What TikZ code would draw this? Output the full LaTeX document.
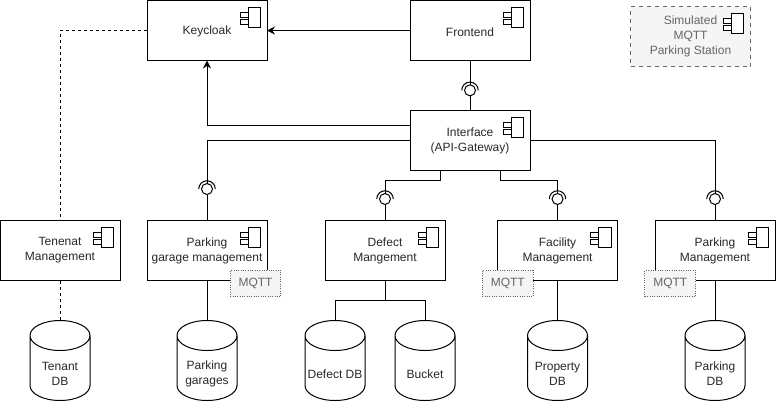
\documentclass[tikz,border=0pt]{standalone}
\usepackage{fontspec}
\setmainfont{Liberation Sans}
\usetikzlibrary{positioning,calc,shapes.geometric,arrows.meta}
\definecolor{TextGray}{RGB}{40,40,40}
\definecolor{NoteGray}{RGB}{102,102,102}
\definecolor{NoteFill}{RGB}{245,245,245}
\tikzset{%
  component/.style={%
    draw, fill=white, text=TextGray, minimum width=90pt, minimum height=45pt,
    inner sep=0pt, outer sep=0pt, align=center, font=\fontsize{9}{11.25}\selectfont,
    execute at begin node={\rule{0pt}{8.5pt}}
  },
  simulated/.style={%
    component, draw=NoteGray, fill=NoteFill, text=NoteGray, dashed
  },
  transport/.style={%
    draw=NoteGray, fill=NoteFill, text=NoteGray, densely dotted,
    minimum width=38pt, minimum height=20pt, inner sep=0pt, outer sep=0pt,
    font=\fontsize{9}{11.25}\selectfont
  },
  database/.style={%
    draw, fill=white, cylinder, shape border rotate=90, aspect=.75,
    minimum width=45pt, minimum height=60pt, inner sep=0pt, outer sep=0pt,
    execute at begin node={\rule{30pt}{0pt}\rule{0pt}{22pt}}
  },
  dbtext/.style={%
    text=TextGray, inner sep=0pt, align=center, yshift=-4.2pt,
    font=\fontsize{9}{11.25}\selectfont
  },
  socket/.style={%
    circle, draw, fill=white, minimum size=8.25pt, inner sep=0pt, outer sep=0pt
  },
  arrow/.style={-{Stealth[length=6pt,width=6pt]}},
  dashline/.style={dash pattern=on 2.25pt off 2.25pt},
  every picture/.style={line width=.75pt}
}
\begin{document}
\begin{tikzpicture}[x=.75pt,y=.75pt]
    \useasboundingbox (0,0) rectangle (776,-401);

    \node (Keycloak)[component] at (207,-30.5) {Keycloak};
    \node (Frontend)[component,right=107.25pt of Keycloak] {Frontend};
    \node (Interface)[component,below=37.5pt of Frontend] {Interface\\(API-Gateway)};
    \node (Simulated)[simulated] at (690.5,-36.5) {Simulated\\MQTT\\Parking Station};

    \node (Garage)[component,below=120pt of Keycloak] {Parking\\garage management};
    \node (Tenant)[component,left=20.25pt of Garage] {Tenenat\\Management};
    \node (Defect)[component,right=43.5pt of Garage] {Defect\\Mangement};
    \node (Facility)[component,right=39.4pt of Defect] {Facility\\Management};
    \node (Parking)[component,right=28.1pt of Facility] {Parking\\Management};

    \node (TenantDB)[database,below=30pt of Tenant] {};
    \node (GarageDB)[database,below=30pt of Garage] {};
    \node (DefectDB)[database,below=30pt of Defect,xshift=-37.5pt] {};
    \node (Bucket)[database,below=30pt of Defect,xshift=30pt] {};
    \node (PropertyDB)[database,below=30pt of Facility] {};
    \node (ParkingDB)[database,below=30pt of Parking] {};

    \node (TenantDBText)[dbtext] at (TenantDB.center) {Tenant\\DB};
    \node (GarageDBText)[dbtext] at (GarageDB.center) {Parking\\garages};
    \node (DefectDBText)[dbtext] at (DefectDB.center) {Defect DB};
    \node (BucketText)[dbtext] at (Bucket.center) {Bucket};
    \node (PropertyDBText)[dbtext] at (PropertyDB.center) {Property\\DB};
    \node (ParkingDBText)[dbtext] at (ParkingDB.center) {Parking\\DB};

    \node (FrontendSocket)[socket,above=11pt of Interface] {};
    \node (GarageSocket)[socket,above=19.5pt of Garage] {};
    \node (DefectSocket)[socket,above=12pt of Defect] {};
    \node (FacilitySocket)[socket,above=12pt of Facility] {};
    \node (ParkingSocket)[socket,above=12pt of Parking] {};

    \draw[arrow] (Frontend) -- (Keycloak);
    \draw[arrow] ([yshift=11.25pt]Interface.west) -| (Keycloak.south);
    \draw[dashline] (Keycloak.west) -| (Tenant.north);
    \draw[dashline] (Tenant.south) -- (TenantDB.north);
    \draw (Frontend.south) -- (FrontendSocket.north);
    \draw (FrontendSocket.south) -- (Interface.north);
    \draw (Interface.west) -| (GarageSocket.north);
    \draw (GarageSocket.south) -- (Garage.north);
    \draw (Interface.east) -| (ParkingSocket.north);
    \draw (ParkingSocket.south) -- (Parking.north);
    \draw ([xshift=-22.5pt]Interface.south) -- ++(0,-10) -| (DefectSocket.north);
    \draw (DefectSocket.south) -- (Defect.north);
    \draw ([xshift=22.5pt]Interface.south) -- ++(0,-10) -| (FacilitySocket.north);
    \draw (FacilitySocket.south) -- (Facility.north);
    \draw (Garage.south) -- (GarageDB.north);
    \coordinate (DefectJoint) at ([yshift=-15pt]Defect.south);
    \draw (Defect.south) -- (DefectJoint);
    \draw (DefectDB.north) |- (DefectJoint) -| (Bucket.north);
    \draw (Facility.south) -- (PropertyDB.north);
    \draw (Parking.south) -- (ParkingDB.north);

    \foreach \sock in {FrontendSocket,GarageSocket,DefectSocket,FacilitySocket,ParkingSocket}
        \draw ([xshift=-6.2pt]\sock.center) arc (180:0:6.2pt);

    \foreach \comp in {Keycloak,Frontend,Interface,Garage,Tenant,Defect,Facility,Parking,Simulated} {
        \draw[fill=white] ([shift={(-14.1pt,-5.25pt)}]\comp.north east) rectangle ++(9.2pt,-15pt);
        \draw[fill=white] ([shift={(-20.25pt,-8.75pt)}]\comp.north east) rectangle ++(6.15pt,-4.2pt);
        \draw[fill=white] ([shift={(-20.25pt,-14.5pt)}]\comp.north east) rectangle ++(6.15pt,-3.75pt);
    }

    \node (GarageMqtt)[transport] at (255.5,-283.5) {MQTT};
    \node (FacilityMqtt)[transport] at (507.8,-283.5) {MQTT};
    \node (ParkingMqtt)[transport] at (670.3,-283.5) {MQTT};
\end{tikzpicture}
\end{document}
